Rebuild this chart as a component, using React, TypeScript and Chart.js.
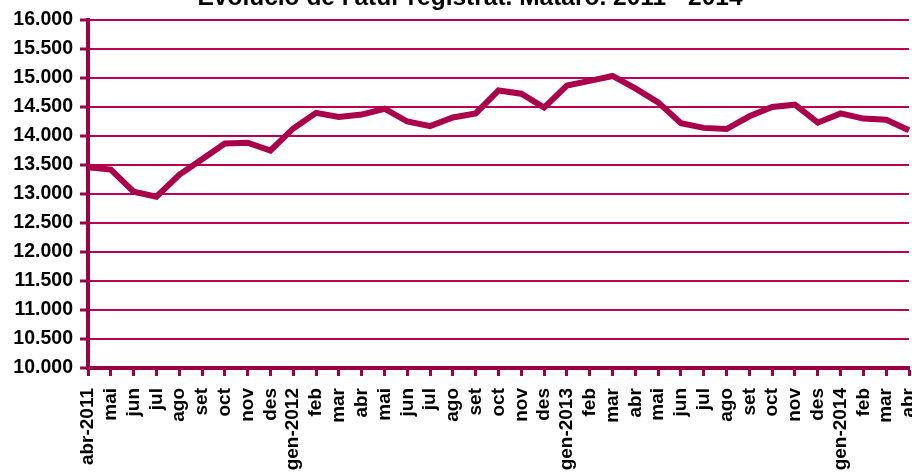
import React, { useEffect, useRef } from "react";
import { Chart, registerables } from "chart.js";

Chart.register(...registerables);

const titleText = "Evolució de l'atur registrat. Mataró. 2011 - 2014";

const months: string[] = [
  "abr-2011", "mai", "jun", "jul", "ago", "set", "oct", "nov", "des",
  "gen-2012", "feb", "mar", "abr", "mai", "jun", "jul", "ago", "set", "oct", "nov", "des",
  "gen-2013", "feb", "mar", "abr", "mai", "jun", "jul", "ago", "set", "oct", "nov", "des",
  "gen-2014", "feb", "mar", "abr",
];

const atur: number[] = [
  13460, 13420, 13040, 12955, 13330, 13600, 13870, 13885, 13750,
  14130, 14400, 14330, 14370, 14470, 14250, 14170, 14320, 14390, 14785, 14730, 14490,
  14870, 14950, 15035, 14820, 14580, 14220, 14140, 14120, 14340, 14500, 14540, 14230,
  14390, 14300, 14280, 14100,
];

const yMin = 10000;
const yMax = 16000;
const yStep = 500;

const LINE = "rgb(170,0,75)";
const GRID = "rgb(185,0,85)";
const AXIS = "rgb(153,0,70)";
const FONT = "'Liberation Sans', Arial, sans-serif";

const titlePlugin = {
  id: "cutTitle",
  afterDraw(chart: any) {
    const ctx = chart.ctx;
    ctx.save();
    ctx.font = `bold 24.5px ${FONT}`;
    ctx.fillStyle = "#000";
    ctx.textAlign = "center";
    ctx.textBaseline = "alphabetic";
    ctx.fillText(titleText, 470, 5);
    ctx.restore();
  },
};

export default function App() {
  const ref = useRef<HTMLCanvasElement | null>(null);
  useEffect(() => {
    if (!ref.current) return;
    const chart = new Chart(ref.current, {
      type: "line",
      data: {
        labels: months,
        datasets: [
          {
            data: atur,
            borderColor: LINE,
            borderWidth: 6,
            pointRadius: 0,
            tension: 0,
            fill: false,
            borderJoinStyle: "miter",
          },
        ],
      },
      options: {
        animation: false,
        responsive: false,
        maintainAspectRatio: false,
        layout: { padding: { top: 20, right: 3, left: 0, bottom: 0 } },
        plugins: {
          legend: { display: false },
          title: { display: false },
          tooltip: { enabled: false },
        },
        scales: {
          x: {
            offset: false,
            grid: {
              display: true,
              drawOnChartArea: false,
              drawTicks: true,
              tickLength: 8,
              tickColor: AXIS,
              tickWidth: 3,
            },
            border: { display: true, color: AXIS, width: 4 },
            ticks: {
              autoSkip: false,
              minRotation: 90,
              maxRotation: 90,
              padding: 12,
              color: "#000",
              font: { family: FONT, size: 19, weight: "bold" },
            },
            afterFit(scale: any) {
              scale.height = 105;
              scale.paddingLeft = 0;
              scale.paddingRight = 0;
            },
          },
          y: {
            min: yMin,
            max: yMax,
            grid: {
              display: true,
              color: GRID,
              lineWidth: 2,
              drawTicks: true,
              tickLength: 8,
              tickColor: AXIS,
              tickWidth: 3,
            },
            border: { display: true, color: AXIS, width: 4 },
            ticks: {
              stepSize: yStep,
              padding: 7,
              color: "#000",
              font: { family: FONT, size: 19.5, weight: "bold" },
              callback: (v: any) => {
                const n = Number(v);
                const th = Math.floor(n / 1000);
                const rest = String(n % 1000).padStart(3, "0");
                return `${th}.${rest}`;
              },
            },
            afterFit(scale: any) {
              scale.width = 88;
            },
          },
        },
      },
      plugins: [titlePlugin],
    });
    return () => chart.destroy();
  }, []);
  return (
    <div style={{ position: "absolute", left: 0, top: 0, width: 912, height: 473, background: "#fff" }}>
      <canvas ref={ref} width={912} height={473} style={{ width: 912, height: 473 }} />
    </div>
  );
}
